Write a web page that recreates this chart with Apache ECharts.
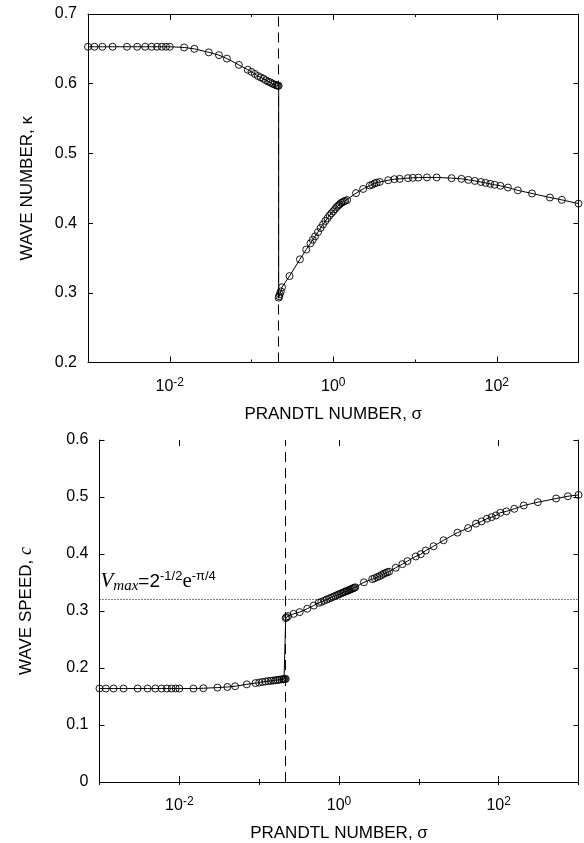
<!DOCTYPE html>
<html>
<head>
<meta charset="UTF-8">
<title>Wave number and wave speed vs Prandtl number</title>
<script src="https://cdn.jsdelivr.net/npm/echarts@6/dist/echarts.min.js"></script>
<style>
    html,body{margin:0;padding:0;background:#fff;}
    #chart{width:584px;height:843px;}
</style>
</head>
<body>
<div id="chart"></div>
<script>
    // left branch (below the critical Prandtl number)
    const sigmaLeft = [0.001,0.0012,0.0015,0.002,0.003,0.004,0.005,0.006,0.007,0.008,0.009,0.01,
        0.015,0.02,0.03,0.04,0.05,0.07,0.09,0.1,0.11,0.12,0.13,0.14,0.15,0.16,0.17,0.18,0.19,0.2,0.205,0.21,0.215];
    const kappaLeft = [0.653,0.653,0.653,0.653,0.653,0.653,0.653,0.653,0.653,0.653,0.653,0.653,
        0.652,0.650,0.645,0.641,0.636,0.627,0.620,0.617,0.614,0.611,0.609,0.607,0.605,0.603,0.602,0.600,0.599,0.598,0.5975,0.597,0.597];
    const cLeft = [0.164,0.164,0.164,0.164,0.164,0.164,0.164,0.164,0.164,0.164,0.164,0.164,
        0.1640,0.1645,0.1656,0.1667,0.1680,0.1713,0.1735,0.1745,0.1755,0.1763,0.1770,0.1775,0.1780,0.1785,0.1790,0.1795,0.1800,0.1803,0.1805,0.1806,0.1808];

    // right branch, wave number
    const sigmaKRight = [0.215,0.218,0.222,0.228,0.236,0.292,0.391,0.467,0.527,0.562,
        0.6,0.65,0.7,0.75,0.8,0.85,0.9,0.95,1.0,1.05,1.1,1.15,1.2,1.25,1.3,1.35,1.4,1.48,
        1.9,2.32,2.8,3.0,3.2,3.4,3.7,4.7,5.6,6.5,8.2,9.4,11,14,18.4,
        28,37,45,54,64,73,83,94,111,137,181,270,447,625,1000];
    const kappaRight = [0.293,0.295,0.298,0.302,0.308,0.324,0.348,0.362,0.371,0.376,
        0.381,0.387,0.393,0.398,0.403,0.407,0.411,0.414,0.417,0.420,0.423,0.425,0.427,0.429,0.430,0.431,0.432,0.433,
        0.443,0.449,0.454,0.455,0.457,0.458,0.459,0.4615,0.463,0.4635,0.4645,0.465,0.4653,0.4655,0.4655,
        0.4645,0.4635,0.462,0.4605,0.459,0.4577,0.4563,0.455,0.4535,0.451,0.447,0.4425,0.4367,0.4333,0.428];

    // right branch, wave speed
    const sigmaCRight = [0.215,0.22,0.23,0.27,0.322,0.40,0.483,0.557,
        0.6,0.65,0.7,0.75,0.8,0.85,0.9,0.95,1.0,1.05,1.1,1.15,1.2,1.25,1.3,1.35,1.4,1.45,1.5,1.55,1.6,
        2.05,2.61,2.8,3.0,3.2,3.4,3.6,3.8,4.0,4.23,
        5.13,6.22,7.19,9.15,10.6,12.2,15.3,20.4,30.5,41.5,51.9,61.1,71.3,81.7,92.5,
        105,125,157,206,309,525,736,1000];
    const cRight = [0.2876,0.289,0.291,0.295,0.298,0.304,0.3096,0.3143,
        0.316,0.318,0.320,0.3218,0.3235,0.325,0.3265,0.328,0.3293,0.3306,0.3318,0.333,0.334,0.335,0.336,0.337,0.338,0.339,0.3398,0.3407,0.3416,
        0.3503,0.356,0.3575,0.3595,0.361,0.363,0.365,0.3665,0.368,0.3689,
        0.3758,0.3822,0.3875,0.3957,0.3997,0.4061,0.4136,0.4241,0.4375,0.4455,0.4532,0.4572,0.4619,0.4647,0.4677,
        0.4724,0.4747,0.4793,0.4851,0.4909,0.4973,0.5013,0.5037];

    const sigmaCrit = 0.215;
    const vMax = 0.3224;          // 2^-1/2 e^-pi/4
    const xMajorTicks = [0.01, 1, 100];

    const FONT = '"Liberation Sans", Arial, sans-serif';
    const SERIF = '"Liberation Serif", "Times New Roman", serif';

    function pairs(xs, ys) {
        return xs.map(function (x, i) { return [x, ys[i]]; });
    }

    function xAxes(grid) {
        let base = {type: 'log', logBase: 10, min: 0.001, max: 1000, gridIndex: grid,
            splitLine: {show: false}, axisLabel: {show: false}};
        return [
            Object.assign({}, base, {
                position: 'bottom',
                axisLine: {show: true, lineStyle: {color: '#000', width: 1}},
                axisTick: {inside: true, length: 3, lineStyle: {color: '#000'}},
                axisLabel: {
                    show: true, margin: 14, color: '#000', fontFamily: FONT, fontSize: 16,
                    formatter: function (v) {
                        let e = Math.round(Math.log10(v));
                        if (e % 2 !== 0 || e <= -3 || e >= 3) return '';
                        return '{b|10}{s|' + e + '}';
                    },
                    rich: {
                        b: {fontFamily: FONT, fontSize: 16, color: '#000', lineHeight: 20},
                        s: {fontFamily: FONT, fontSize: 12, color: '#000', verticalAlign: 'top', lineHeight: 12}
                    }
                },
                name: 'PRANDTL NUMBER, σ', nameLocation: 'middle', nameGap: 43,
                nameTextStyle: {fontFamily: FONT, fontSize: 17, color: '#000'}
            }),
            Object.assign({}, base, {
                position: 'top',
                axisLine: {show: true, lineStyle: {color: '#000', width: 1}},
                axisTick: {inside: true, length: 3, lineStyle: {color: '#000'}}
            }),
            Object.assign({}, base, {
                position: 'bottom', axisLine: {show: false},
                axisTick: {inside: true, length: 6, customValues: xMajorTicks, lineStyle: {color: '#000'}}
            }),
            Object.assign({}, base, {
                position: 'top', axisLine: {show: false},
                axisTick: {inside: true, length: 6, customValues: xMajorTicks, lineStyle: {color: '#000'}}
            })
        ];
    }

    function yAxes(grid, min, max, name, gap) {
        let base = {type: 'value', min: min, max: max, interval: 0.1, gridIndex: grid,
            splitLine: {show: false},
            axisLine: {show: true, lineStyle: {color: '#000', width: 1}},
            axisTick: {inside: true, length: 5, lineStyle: {color: '#000'}}};
        return [
            Object.assign({}, base, {
                position: 'left',
                axisLabel: {margin: 11, color: '#000', fontFamily: FONT, fontSize: 16},
                name: name, nameLocation: 'middle', nameGap: gap,
                nameTextStyle: {fontFamily: FONT, fontSize: 17, color: '#000',
                    rich: {
                        n: {fontFamily: FONT, fontSize: 17, color: '#000'},
                        i: {fontFamily: SERIF, fontSize: 18, fontStyle: 'italic', color: '#000'}
                    }}
            }),
            Object.assign({}, base, {position: 'right', axisLabel: {show: false}})
        ];
    }

    const dashed = {color: '#000', type: [10, 6], width: 1};

    function curve(xi, yi, data, extraLines) {
        return {
            type: 'line', xAxisIndex: xi, yAxisIndex: yi, data: data,
            symbol: 'circle', symbolSize: 7, showSymbol: true, showAllSymbol: true,
            itemStyle: {color: 'rgba(0,0,0,0)', borderColor: '#000', borderWidth: 0.9},
            lineStyle: {color: '#000', width: 1},
            emphasis: {disabled: true},
            markLine: {
                silent: true, symbol: 'none', animation: false,
                label: {show: false},
                lineStyle: dashed,
                data: [{xAxis: sigmaCrit}].concat(extraLines || [])
            }
        };
    }

    let chart = echarts.init(document.getElementById('chart'));
    let option = {
        animation: false,
        backgroundColor: '#fff',
        grid: [
            {left: 88, right: 5.5, top: 14, height: 348.5},
            {left: 99.5, right: 5.5, top: 440, height: 344.3}
        ],
        xAxis: xAxes(0).concat(xAxes(1)),
        yAxis: yAxes(0, 0.2, 0.7, '{n|WAVE NUMBER, κ}', 52)
            .concat(yAxes(1, 0, 0.6, '{n|WAVE SPEED, }{i|c}', 64)),
        series: [
            curve(0, 0, pairs(sigmaLeft, kappaLeft).concat(pairs(sigmaKRight, kappaRight))),
            curve(4, 2, pairs(sigmaLeft, cLeft).concat(pairs(sigmaCRight, cRight)), [{
                yAxis: vMax,
                lineStyle: {color: '#000', type: [1, 2], width: 1},
                label: {
                    show: true, position: 'insideStartTop', distance: [1, 6],
                    formatter: '{v|V}{m|max}{n|=2}{s|-1/2}{e|e}{s|-π/4}',
                    rich: {
                        v: {fontFamily: SERIF, fontStyle: 'italic', fontSize: 21, color: '#000', lineHeight: 24},
                        m: {fontFamily: SERIF, fontStyle: 'italic', fontSize: 15, color: '#000', verticalAlign: 'bottom', lineHeight: 17},
                        n: {fontFamily: FONT, fontSize: 19, color: '#000', lineHeight: 24},
                        e: {fontFamily: SERIF, fontSize: 21, color: '#000', lineHeight: 24},
                        s: {fontFamily: FONT, fontSize: 13, color: '#000', verticalAlign: 'top', lineHeight: 13}
                    }
                }
            }])
        ]
    };
    chart.setOption(option);
</script>
</body>
</html>
